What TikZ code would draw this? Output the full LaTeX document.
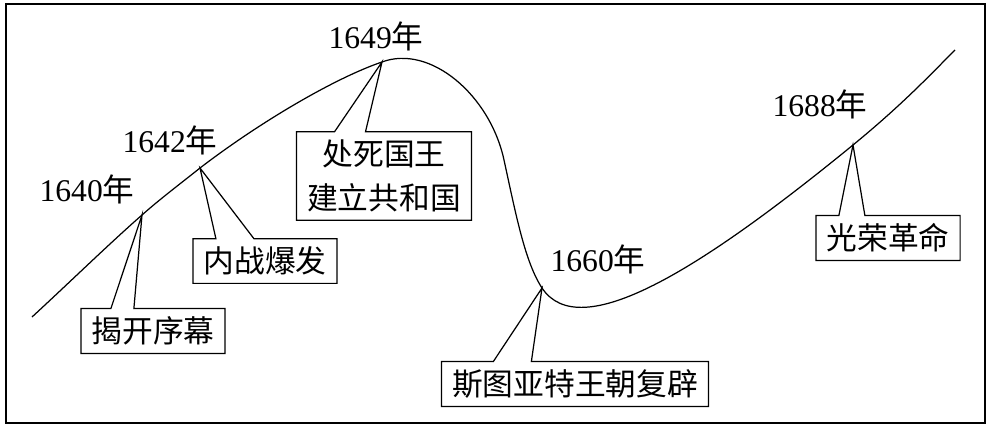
\documentclass[tikz,border=0pt]{standalone}
\usepackage{fontspec}
\setmainfont{Liberation Serif}
\newfontfamily\cjk{Noto Sans CJK SC}
\tikzset{
  year/.style={font=\fontsize{18}{22}\selectfont},
  event/.style={font=\cjk\fontsize{17.5}{25}\selectfont, align=center, inner xsep=0.2cm, inner ysep=0.15cm}
}
\begin{document}
\begin{tikzpicture}[x=0.02cm, y=-0.02cm, line width=0.7pt]
\useasboundingbox (0,0) rectangle (991,439);
\draw[line width=0.9pt] (6,4) rectangle (985,423);

% points on the curve
\coordinate (start) at (32,317);
\coordinate (t1640) at (142,215);
\coordinate (t1642) at (200,168);
\coordinate (t1649) at (382,62);
\coordinate (fall) at (504,160);
\coordinate (t1660) at (542,288);
\coordinate (t1688) at (853,145);
\coordinate (end) at (955,50);
\draw (start) .. controls (70,282) and (110,243) .. (t1640)
  .. controls (160,199) and (180,184) .. (t1642)
  .. controls (260,122) and (335,78) .. (t1649)
  .. controls (430,44) and (490,95) .. (fall)
  .. controls (516,215) and (525,262) .. (t1660)
  .. controls (580,345) and (700,270) .. (t1688)
  .. controls (903,104) and (930,75) .. (end);

% years
\node[year] (y1640) at (87,189) {1640{\cjk 年}};
\node[year] (y1642) at (170,140) {1642{\cjk 年}};
\node[year] (y1649) at (376,36) {1649{\cjk 年}};
\node[year] (y1660) at (598,259) {1660{\cjk 年}};
\node[year] (y1688) at (820,104) {1688{\cjk 年}};

% events
\node[event] (open) at (153,331) {揭开序幕};
\node[event] (war) at (265,261) {内战爆发};
\node[event] (king) at (384,176) {处死国王\\建立共和国};
\node[event] (stuart) at (575,384) {斯图亚特王朝复辟};
\node[event] (glory) at (888,238) {光荣革命};

\draw ([xshift=0.6cm]open.north west) -- (t1640) -- ([xshift=1.06cm]open.north west) -- (open.north east) -- (open.south east) -- (open.south west) -- (open.north west) -- cycle;
\draw ([xshift=0.46cm]war.north west) -- (t1642) -- ([xshift=1.22cm]war.north west) -- (war.north east) -- (war.south east) -- (war.south west) -- (war.north west) -- cycle;
\draw ([xshift=0.76cm]king.north west) -- (t1649) -- ([xshift=1.38cm]king.north west) -- (king.north east) -- (king.south east) -- (king.south west) -- (king.north west) -- cycle;
\draw ([xshift=1.04cm]stuart.north west) -- (t1660) -- ([xshift=1.8cm]stuart.north west) -- (stuart.north east) -- (stuart.south east) -- (stuart.south west) -- (stuart.north west) -- cycle;
\draw ([xshift=0.46cm]glory.north west) -- (t1688) -- ([xshift=0.98cm]glory.north west) -- (glory.north east) -- (glory.south east) -- (glory.south west) -- (glory.north west) -- cycle;
\end{tikzpicture}
\end{document}
